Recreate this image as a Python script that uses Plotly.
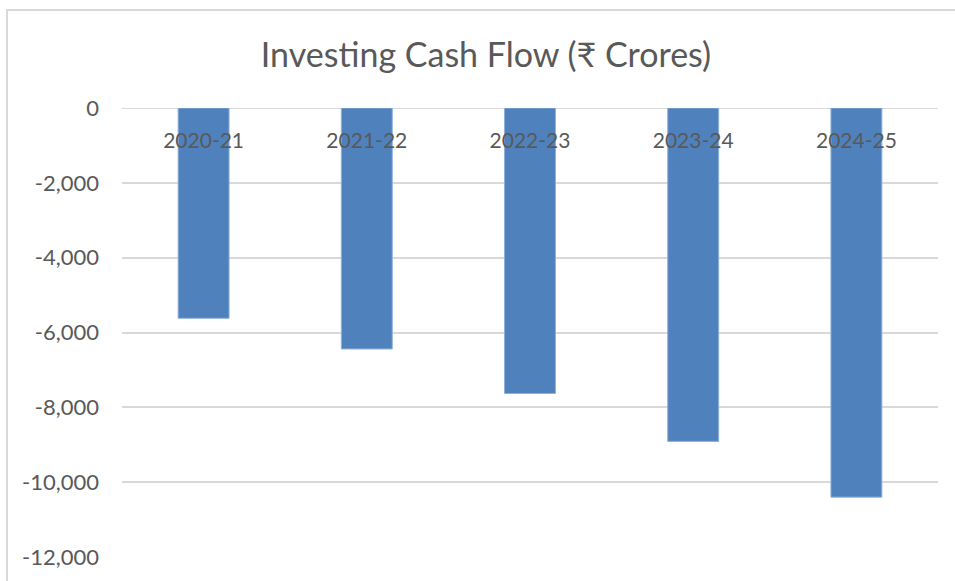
import plotly.graph_objects as go

categories = ["2020-21", "2021-22", "2022-23", "2023-24", "2024-25"]
values = [-5620, -6440, -7630, -8910, -10400]
y_ticks = [0, -2000, -4000, -6000, -8000, -10000, -12000]
y_tick_labels = ["0", "-2,000", "-4,000", "-6,000", "-8,000", "-10,000", "-12,000"]
title_text = "Investing Cash Flow (₹ Crores)"

W, H = 955, 581
L, R, T, B = 122, W - 938, 108, H - 557
pw, ph = W - L - R, H - T - B

fig = go.Figure(go.Bar(
    x=categories, y=values,
    marker=dict(color="#4f81bd", line=dict(color="#8eb0da", width=1)),
    hoverinfo="x+y",
))

font_family = "Lato, 'Open Sans', 'DejaVu Sans', sans-serif"
text_color = "#595959"

fig.update_layout(
    width=W, height=H,
    margin=dict(l=L, r=R, t=T, b=B),
    paper_bgcolor="white", plot_bgcolor="white",
    bargap=0.688,
    showlegend=False,
    title=dict(text=title_text, x=486 / W, xref="container", xanchor="center",
               y=1 - 55 / H, yref="container", yanchor="middle",
               font=dict(family=font_family, size=34, color=text_color)),
    font=dict(family=font_family, color=text_color),
    xaxis=dict(type="category", anchor="free", position=1.0, side="bottom",
               showline=False, showgrid=False, ticks="", zeroline=False,
               ticklabelstandoff=18,
               tickfont=dict(family=font_family, size=21, color=text_color)),
    yaxis=dict(range=[-12000, 0], tickvals=y_ticks, ticktext=y_tick_labels,
               showgrid=True, gridcolor="#d9d9d9", gridwidth=1.5,
               zeroline=False, showline=False, ticks="",
               ticklabelstandoff=22,
               tickfont=dict(family=font_family, size=22, color=text_color)),
    shapes=[dict(type="rect", xref="paper", yref="paper",
                 x0=(7 - L) / pw, x1=(W + 5 - L) / pw,
                 y0=-(H + 5 - (H - B)) / ph, y1=1 + (T - 10) / ph,
                 line=dict(color="#d9d9d9", width=2), fillcolor="rgba(0,0,0,0)",
                 layer="below")],
)
fig.add_hline(y=0, line=dict(color="#d9d9d9", width=2), layer="below")

fig.write_html("out.html", config={"displayModeBar": False},
               post_script="document.body.style.margin='0';document.body.style.overflow='hidden';")
